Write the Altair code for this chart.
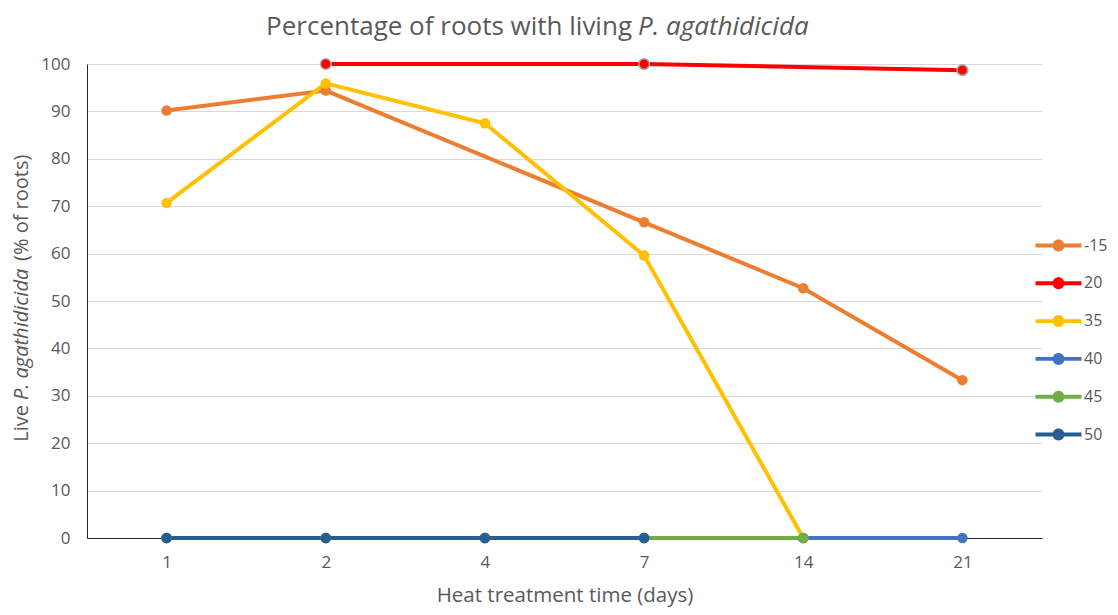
import altair as alt
import pandas as pd

# ---- data ----
days = ["1", "2", "4", "7", "14", "21"]
series_names = ["-15", "20", "35", "40", "45", "50"]
series_colors = ["#ED7D31", "#FF0000", "#FFC000", "#4472C4", "#70AD47", "#255E91"]

v_m15 = [90.2, 94.4, None, 66.6, 52.7, 33.3]
v_20 = [None, 100.0, None, 100.0, None, 98.7]
v_35 = [70.7, 95.9, 87.5, 59.6, 0.0, None]
v_40 = [0.0, 0.0, 0.0, 0.0, 0.0, 0.0]
v_45 = [0.0, 0.0, 0.0, 0.0, 0.0, None]
v_50 = [0.0, 0.0, 0.0, 0.0, None, None]

series_values = [v_m15, v_20, v_35, v_40, v_45, v_50]

rows = []
for s, c, vals in zip(series_names, series_colors, series_values):
    for i, (d, v) in enumerate(zip(days, vals)):
        if v is not None:
            rows.append({"series": s, "hex": c, "day": d, "idx": i, "value": v})
df = pd.DataFrame(rows)

FONT = "Open Sans"
GREY = "#595959"
LEGEND_PATH = ("M-2,-0.17H2V0.17H-2Z "
               "M0.52,0A0.52,0.52 0 1 1 -0.52,0A0.52,0.52 0 1 1 0.52,0Z")

x_enc = alt.X(
    "day:O",
    sort=days,
    scale=alt.Scale(domain=days),
    axis=alt.Axis(
        title="Heat treatment time (days)",
        labelAngle=0,
        grid=False,
        ticks=False,
        tickSize=0,
        labelPadding=16,
        titlePadding=15,
    ),
)
y_enc = alt.Y(
    "value:Q",
    scale=alt.Scale(domain=[0, 100], nice=False, zero=True),
    axis=alt.Axis(
        title=None,
        values=list(range(0, 101, 10)),
        grid=True,
        ticks=False,
        tickSize=0,
        labelPadding=17,
    ),
)

base = alt.Chart(df)

lines = base.mark_line(strokeWidth=4).encode(
    x=x_enc,
    y=y_enc,
    stroke=alt.Stroke("hex:N", scale=None),
    order=alt.Order("idx:Q"),
)

points = base.mark_circle(size=110, opacity=1).encode(
    x=x_enc,
    y=y_enc,
    fill=alt.Fill(
        "series:N",
        scale=alt.Scale(domain=series_names, range=series_colors),
        sort=series_names,
        legend=alt.Legend(
            title=None,
            orient="none",
            legendX=960,
            legendY=170,
            padding=0,
            symbolType=LEGEND_PATH,
            symbolSize=529,
            symbolStrokeWidth=0,
            symbolOpacity=1,
            labelFont=FONT,
            labelFontSize=16,
            labelColor=GREY,
            labelOffset=14,
            rowPadding=17.8,
        ),
    ),
)

red_ring = base.transform_filter("datum.series === '20'").mark_circle(
    size=110, opacity=1, fill="#FF0000", stroke="#A6A6A6", strokeWidth=1.6
).encode(x=x_enc, y=y_enc)


def label(text, x, y, **kw):
    return alt.Chart(alt.Data(values=[{"k": 1}])).mark_text(
        text=text, font=FONT, color=GREY, **kw
    ).encode(x=alt.value(x), y=alt.value(y))


title_plain = label("Percentage of roots with living", 545, -29,
                    fontSize=26, align="right", baseline="alphabetic")
title_ital = label("P. agathidicida", 551, -29,
                   fontSize=26, align="left", baseline="alphabetic", fontStyle="italic")

ytitle_a = label("Live", -65, 341, fontSize=20, angle=270, align="right", baseline="middle")
ytitle_b = label("P. agathidicida", -65, 336, fontSize=20, angle=270, align="left",
                 baseline="middle", fontStyle="italic")
ytitle_c = label("(% of roots)", -65, 197, fontSize=20, angle=270, align="left",
                 baseline="middle")

chart = alt.layer(
    lines, points, red_ring,
    title_plain, title_ital, ytitle_a, ytitle_b, ytitle_c,
).properties(
    width=955,
    height=474,
    autosize=alt.AutoSizeParams(type="none"),
    padding={"left": 79, "top": 56, "right": 68, "bottom": 69},
).configure_view(
    stroke=None
).configure_axis(
    labelFont=FONT,
    labelFontSize=17,
    labelColor=GREY,
    titleFont=FONT,
    titleFontSize=20.5,
    titleFontWeight="normal",
    titleColor=GREY,
    domainColor="#262626",
    domainWidth=1,
    gridColor="#D9D9D9",
    gridWidth=1,
)

chart.save("out.html", embed_options={"renderer": "svg", "actions": False})
